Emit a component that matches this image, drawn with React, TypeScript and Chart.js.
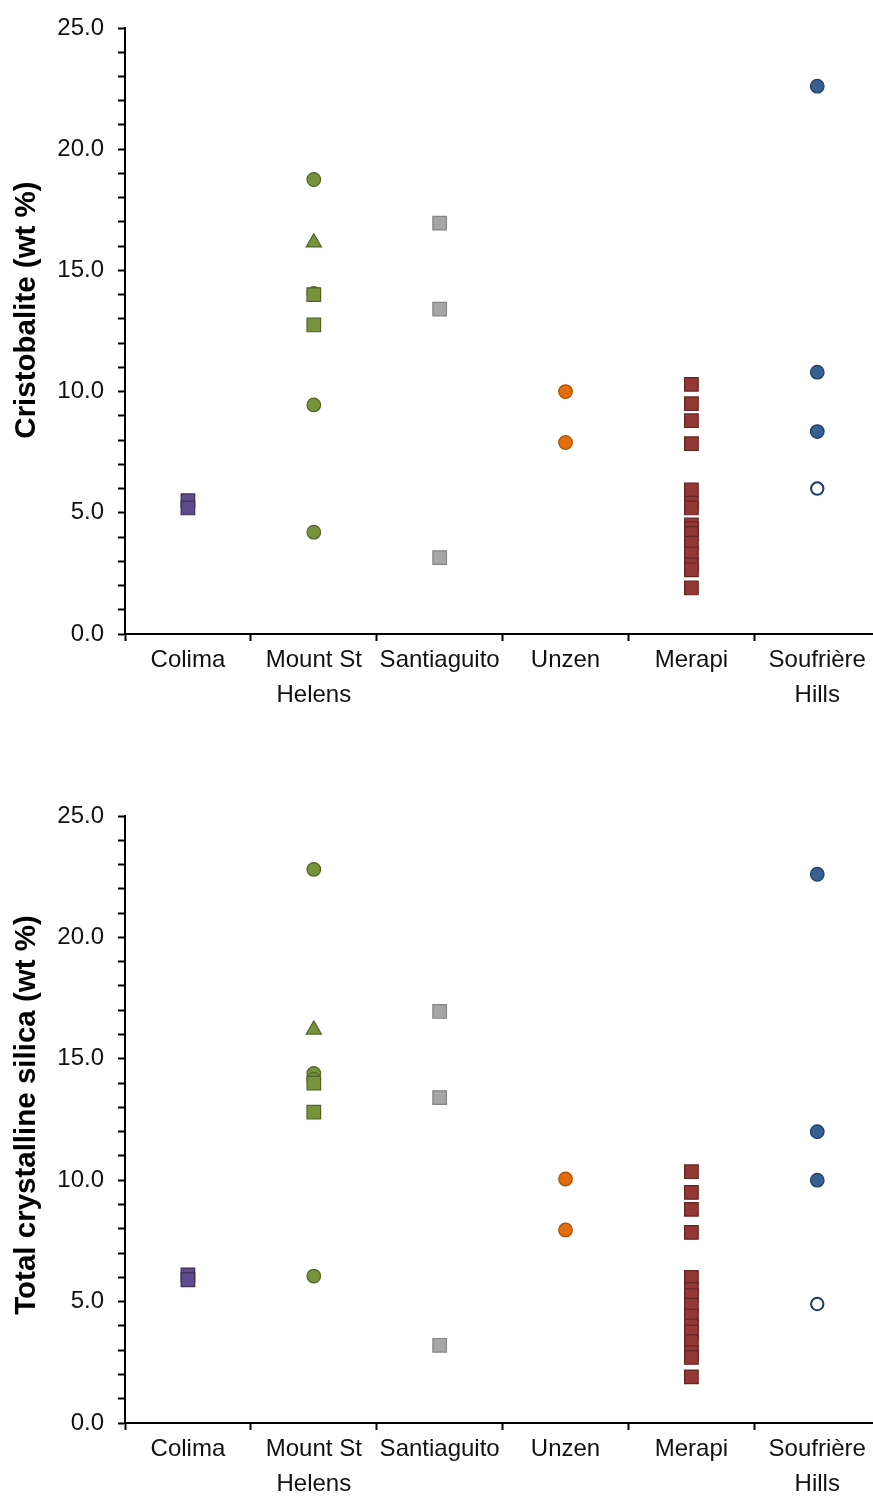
import React, { useEffect, useRef } from "react";
import { Chart, registerables } from "chart.js";

Chart.register(...registerables);

// ---------- data ----------
const categories = ["Colima", "Mount St Helens", "Santiaguito", "Unzen", "Merapi", "Soufrière Hills"];
const categoryTickLines = [["Colima"], ["Mount St", "Helens"], ["Santiaguito"], ["Unzen"], ["Merapi"], ["Soufrière", "Hills"]];
const yTickValues = [0, 5, 10, 15, 20, 25];

// Cristobalite (wt %)
const colimaCristobalite = [5.5, 5.2];
const mshCristobaliteSquares = [14.0, 12.75];
const mshCristobaliteTriangles = [16.15];
const mshCristobaliteCircles = [18.75, 14.05, 9.45, 4.2];
const santiaguitoCristobalite = [16.95, 13.4, 3.15];
const unzenCristobalite = [10.0, 7.9];
const merapiCristobalite = [10.3, 9.5, 8.8, 7.85, 5.95, 5.4, 5.2, 4.5, 4.35, 4.15, 3.75, 3.3, 2.85, 2.65, 1.9];
const soufriereCristobalite = [22.6, 10.8, 8.35];
const soufriereCristobaliteOpen = [6.0];

// Total crystalline silica (wt %)
const colimaTotal = [6.1, 5.9];
const mshTotalSquares = [14.0, 12.8];
const mshTotalTriangles = [16.2];
const mshTotalCircles = [22.8, 14.4, 14.15, 6.05];
const santiaguitoTotal = [16.95, 13.4, 3.2];
const unzenTotal = [10.05, 7.95];
const merapiTotal = [10.35, 9.5, 8.8, 7.85, 6.0, 5.5, 5.25, 4.85, 4.4, 4.0, 3.75, 3.35, 2.9, 2.7, 1.9];
const soufriereTotal = [22.6, 12.0, 10.0];
const soufriereTotalOpen = [4.9];

// ---------- styles ----------
const FONT = "'Liberation Sans', Arial, sans-serif";
const COLORS = {
  colima: ["#5f4a8b", "#3f3151"],
  msh: ["#77933c", "#4f6228"],
  sant: ["#a6a6a6", "#858585"],
  unzen: ["#e46c0a", "#a84f07"],
  merapi: ["#953735", "#632523"],
  souf: ["#376092", "#1f3b62"],
};

function ds(cat: string, values: number[], style: string, fill: string, border: string, radius: number, bw = 1.2) {
  return {
    data: values.map((v) => ({ x: cat, y: v })),
    pointStyle: style,
    pointRadius: radius,
    pointHoverRadius: radius,
    backgroundColor: fill,
    borderColor: border,
    pointBorderWidth: bw,
    borderWidth: bw,
    showLine: false,
  };
}

const SQ = 9.6;
const CI = 6.8;
const TR = 8.8;

function buildDatasets(d: any) {
  return [
    ds(categories[0], d.colima, "rect", COLORS.colima[0], COLORS.colima[1], SQ),
    ds(categories[1], d.mshSq, "rect", COLORS.msh[0], COLORS.msh[1], SQ),
    ds(categories[1], d.mshTr, "triangle", COLORS.msh[0], COLORS.msh[1], TR),
    ds(categories[1], d.mshCi, "circle", COLORS.msh[0], COLORS.msh[1], CI),
    ds(categories[2], d.sant, "rect", COLORS.sant[0], COLORS.sant[1], SQ),
    ds(categories[3], d.unzen, "circle", COLORS.unzen[0], COLORS.unzen[1], CI),
    ds(categories[4], d.merapi, "rect", COLORS.merapi[0], COLORS.merapi[1], SQ),
    ds(categories[5], d.souf, "circle", COLORS.souf[0], COLORS.souf[1], CI),
    ds(categories[5], d.soufOpen, "circle", "#ffffff", "#1f3864", 6.2, 2),
  ];
}

const yTitlePlugin = {
  id: "yTitleCustom",
  afterDraw(chart: any, _args: any, opts: any) {
    const ctx = chart.ctx;
    ctx.save();
    ctx.translate(opts.x, opts.y);
    ctx.rotate(-Math.PI / 2);
    ctx.font = `bold ${opts.size}px ${FONT}`;
    ctx.fillStyle = "#000";
    ctx.textAlign = "center";
    ctx.textBaseline = "middle";
    ctx.fillText(opts.text, 0, 0);
    ctx.restore();
  },
};

function makeConfig(datasets: any[], title: string, titleY: number, padTop: number) {
  return {
    type: "scatter",
    data: { labels: categories, datasets },
    plugins: [yTitlePlugin],
    options: {
      responsive: false,
      animation: false,
      events: [],
      layout: { padding: { top: padTop, left: 0, right: 0, bottom: 0 } },
      plugins: {
        legend: { display: false },
        tooltip: { enabled: false },
        yTitleCustom: { text: title, x: 27, y: titleY, size: 29.5 },
      },
      scales: {
        x: {
          type: "category",
          labels: categories,
          offset: true,
          afterFit: (s: any) => {
            s.height = 74;
            s.paddingLeft = 0;
            s.paddingRight = 0;
          },
          border: { display: true, color: "#000", width: 2 },
          grid: { offset: true, drawOnChartArea: false, drawTicks: true, tickLength: 7, tickWidth: 2, tickColor: "#000", color: "#000" },
          ticks: {
            autoSkip: false,
            maxRotation: 0,
            minRotation: 0,
            padding: 2,
            color: "#111",
            font: { family: FONT, size: 24, lineHeight: 1.45 },
            callback: (_v: any, i: number) => categoryTickLines[i],
          },
        },
        y: {
          type: "linear",
          min: 0,
          max: 25,
          afterFit: (s: any) => {
            s.width = 125;
            s.paddingTop = 0;
            s.paddingBottom = 0;
          },
          border: { display: true, color: "#000", width: 2 },
          grid: { drawOnChartArea: false, drawTicks: true, tickLength: 7, tickWidth: 2, tickColor: "#000", color: "#000" },
          ticks: {
            stepSize: 1,
            autoSkip: false,
            padding: 14,
            color: "#111",
            font: { family: FONT, size: 24 },
            callback: (v: any) => (yTickValues.includes(Number(v)) ? Number(v).toFixed(1) : ""),
          },
        },
      },
    },
  };
}

function ChartCanvas({ config, width, height, top }: any) {
  const ref = useRef<HTMLCanvasElement | null>(null);
  useEffect(() => {
    if (!ref.current) return;
    const chart = new Chart(ref.current, config);
    return () => chart.destroy();
  }, []);
  return (
    <canvas
      ref={ref}
      width={width}
      height={height}
      style={{ position: "absolute", left: 0, top, width, height, display: "block" }}
    />
  );
}

export default function App() {
  const topConfig = makeConfig(
    buildDatasets({
      colima: colimaCristobalite,
      mshSq: mshCristobaliteSquares,
      mshTr: mshCristobaliteTriangles,
      mshCi: mshCristobaliteCircles,
      sant: santiaguitoCristobalite,
      unzen: unzenCristobalite,
      merapi: merapiCristobalite,
      souf: soufriereCristobalite,
      soufOpen: soufriereCristobaliteOpen,
    }),
    "Cristobalite (wt %)",
    310,
    28
  );
  const bottomConfig = makeConfig(
    buildDatasets({
      colima: colimaTotal,
      mshSq: mshTotalSquares,
      mshTr: mshTotalTriangles,
      mshCi: mshTotalCircles,
      sant: santiaguitoTotal,
      unzen: unzenTotal,
      merapi: merapiTotal,
      souf: soufriereTotal,
      soufOpen: soufriereTotalOpen,
    }),
    "Total crystalline silica (wt %)",
    407,
    108
  );
  return (
    <div style={{ position: "absolute", left: 0, top: 0, width: 873, height: 1497, background: "#fff", overflow: "hidden" }}>
      <ChartCanvas config={topConfig} width={891} height={708} top={0} />
      <ChartCanvas config={bottomConfig} width={891} height={789} top={708} />
    </div>
  );
}
